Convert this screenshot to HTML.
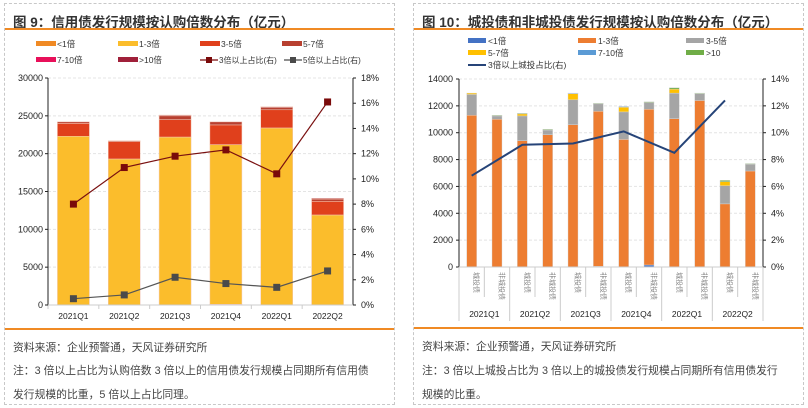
<!DOCTYPE html>
<html><head><meta charset="utf-8">
<style>
body{margin:0;width:808px;height:408px;background:#fff;font-family:"Liberation Sans","Noto Sans CJK SC",sans-serif;position:relative;overflow:hidden}
.panel{position:absolute;top:3px;height:402px;border:1px dashed #c8c8c8;box-sizing:border-box}
.title{position:absolute;left:8px;top:7px;font-size:13.5px;font-weight:bold;color:#333;white-space:nowrap}
.oline{position:absolute;left:0;right:0;height:2px;background:#f08a24}
.note{position:absolute;left:8px;font-size:10.8px;color:#444;white-space:nowrap}
svg{position:absolute;left:0;top:0}
svg text{font-family:"Liberation Sans","Noto Sans CJK SC",sans-serif}
</style></head><body>
<div class="panel" style="left:4px;width:391px">
<div class="title">图 9：信用债发行规模按认购倍数分布（亿元）</div>
<div class="oline" style="top:24px"></div>
<div class="oline" style="top:324px"></div>
<div class="note" style="top:335px">资料来源：企业预警通，天风证券研究所</div>
<div class="note" style="top:358px">注：3 倍以上占比为认购倍数 3 倍以上的信用债发行规模占同期所有信用债</div>
<div class="note" style="top:382px">发行规模的比重，5 倍以上占比同理。</div>
</div>
<div class="panel" style="left:413px;width:391px">
<div class="title">图 10：城投债和非城投债发行规模按认购倍数分布（亿元）</div>
<div class="oline" style="top:24px"></div>
<div class="oline" style="top:323px"></div>
<div class="note" style="top:334px">资料来源：企业预警通，天风证券研究所</div>
<div class="note" style="top:358px">注：3 倍以上城投占比为 3 倍以上的城投债发行规模占同期所有信用债发行</div>
<div class="note" style="top:382px">规模的比重。</div>
</div>
<svg id="s" width="808" height="408"></svg>
<script>
// Left chart data
const lCats=["2021Q1","2021Q2","2021Q3","2021Q4","2022Q1","2022Q2"];
const lLt1=[0,0,0,100,0,0];
const l13=[22300,19300,22200,21100,23400,11900];
const l35=[1700,2300,2300,2600,2400,1800];
const l57=[200,100,500,400,300,300];
const l710=[0,0,0,0,0,0];
const lGt10=[0,0,100,0,100,100];
const l3up=[8.0,10.9,11.8,12.3,10.4,16.1];
const l5up=[0.5,0.8,2.2,1.7,1.4,2.7];
const lYTicks=[0,5000,10000,15000,20000,25000,30000];
const lRTicks=[0,2,4,6,8,10,12,14,16,18];
// Right chart data
const rQuarters=["2021Q1","2021Q2","2021Q3","2021Q4","2022Q1","2022Q2"];
const rCats=["城投债","非城投债"];
const rLt1=[0,0,0,0,0,50,0,150,0,0,0,0];
const r13=[11300,11000,9400,9850,10600,11550,9500,11600,11050,12400,4700,7150];
const r35=[1550,250,1850,350,1850,550,2050,500,1900,500,1350,500];
const r57=[100,0,150,0,450,0,350,0,300,0,300,0];
const r710=[0,0,0,0,50,0,50,0,0,0,0,0];
const rGt10=[0,50,50,50,0,50,0,50,100,50,100,50];
const rLine=[6.8,9.1,9.2,10.1,8.5,12.4];
const rYTicks=[0,2000,4000,6000,8000,10000,12000,14000];
const rRTicks=[0,2,4,6,8,10,12,14];

const s=document.getElementById('s');const NS='http://www.w3.org/2000/svg';
function mk(t,a,txt){const e=document.createElementNS(NS,t);for(const k in a)e.setAttribute(k,a[k]);if(txt!==undefined)e.textContent=txt;s.appendChild(e);return e;}

// ---- Left chart
const L={x0:48,x1:353,y0:305,y1:78,max:30000,rmax:18};
const ly=v=>L.y0-(v/L.max)*(L.y0-L.y1);
const lry=v=>L.y0-(v/L.rmax)*(L.y0-L.y1);
const lbw=(L.x1-L.x0)/lCats.length;
const lx=i=>L.x0+lbw*(i+0.5);
lYTicks.forEach(t=>{
 if(t>0){const g=mk('line',{x1:L.x0,x2:L.x1,y1:ly(t),y2:ly(t),stroke:'#e4e4e4','stroke-dasharray':'3,2'});}
 const e=mk('text',{x:L.x0-5,y:ly(t)+3,'font-size':9,'text-anchor':'end',fill:'#222'},t);
 
});
lRTicks.forEach(t=>{const e=mk('text',{x:L.x1+8,y:lry(t)+3,'font-size':9,fill:'#222'},t+'%');
 
 mk('line',{x1:L.x1,x2:L.x1+3,y1:lry(t),y2:lry(t),stroke:'#222'});});
const lSeries=[[lLt1,'#f08a24'],[l13,'#fbbd2c'],[l35,'#e0401c'],[l57,'#b84030'],[l710,'#e8105a'],[lGt10,'#a0203a']];
lCats.forEach((c,i)=>{let acc=0;
 lSeries.forEach(([arr,col],k)=>{const v=arr[i];if(v<=0)return;
  const r=mk('rect',{x:lx(i)-16,y:ly(acc+v),width:32,height:ly(acc)-ly(acc+v),fill:col,stroke:'#f3c9b8','stroke-width':0.5});
  acc+=v;});
 const t=mk('text',{x:lx(i),y:L.y0+14,'font-size':8.5,'text-anchor':'middle',fill:'#222'},c);
 
 mk('line',{x1:L.x0+lbw*i,x2:L.x0+lbw*i,y1:L.y0,y2:L.y0+4,stroke:'#ccc'});
});
mk('line',{x1:L.x0,x2:L.x0,y1:L.y1,y2:L.y0,stroke:'#222'});
mk('line',{x1:L.x1,x2:L.x1,y1:L.y1,y2:L.y0,stroke:'#222'});
mk('line',{x1:L.x0,x2:L.x1,y1:L.y0,y2:L.y0,stroke:'#ccc'});
lYTicks.forEach(t=>mk('line',{x1:L.x0-3,x2:L.x0,y1:ly(t),y2:ly(t),stroke:'#222'}));
function line(arr,xf,yf,col,w,name,marker){const p=mk('polyline',{points:arr.map((v,i)=>xf(i)+','+yf(v)).join(' '),fill:'none',stroke:col,'stroke-width':w});
 
 if(marker)arr.forEach((v,i)=>{const m=mk('rect',{x:xf(i)-3.5,y:yf(v)-3.5,width:7,height:7,fill:marker});});}
line(l3up,lx,lry,'#7a1010',1.2,'line-3x-share','#7a0a0a');
line(l5up,lx,lry,'#555',1.2,'line-5x-share','#4a4a4a');
// left legend
const lLeg=[['<1倍','#f08a24',36,44],['1-3倍','#fbbd2c',118,44],['3-5倍','#e0401c',200,44],['5-7倍','#b84030',282,44],['7-10倍','#e8105a',36,60],['>10倍','#a0203a',118,60]];
lLeg.forEach(([n,c,x,y])=>{const r=mk('rect',{x:x,y:y-3,width:20,height:5,fill:c});
 const t=mk('text',{x:x+21,y:y+3,'font-size':8.5,fill:'#333'},n);});
[['3倍以上占比(右)','#7a0a0a',200],['5倍以上占比(右)','#4a4a4a',284]].forEach(([n,c,x])=>{mk('line',{x1:x,x2:x+18,y1:60,y2:60,stroke:c,'stroke-width':1.2});mk('rect',{x:x+6,y:57,width:6,height:6,fill:c});
 const t=mk('text',{x:x+19,y:63,'font-size':8,fill:'#333'},n);});

// ---- Right chart
const R={x0:459,x1:763,y0:267,y1:79,max:14000,rmax:14};
const ry=v=>R.y0-(v/R.max)*(R.y0-R.y1);
const rry=v=>R.y0-(v/R.rmax)*(R.y0-R.y1);
const rbw=(R.x1-R.x0)/12;
const rx=i=>R.x0+rbw*(i+0.5);
rYTicks.forEach(t=>{
 if(t>0){const g=mk('line',{x1:R.x0,x2:R.x1,y1:ry(t),y2:ry(t),stroke:'#e4e4e4','stroke-dasharray':'3,2'});}
 const e=mk('text',{x:R.x0-6,y:ry(t)+3,'font-size':9,'text-anchor':'end',fill:'#222'},t);
 
 mk('line',{x1:R.x0-3,x2:R.x0,y1:ry(t),y2:ry(t),stroke:'#222'});
});
rRTicks.forEach(t=>{const e=mk('text',{x:R.x1+8,y:rry(t)+3,'font-size':9,fill:'#222'},t+'%');
 
 mk('line',{x1:R.x1,x2:R.x1+3,y1:rry(t),y2:rry(t),stroke:'#222'});});
const rSeries=[[rLt1,'#4472c4'],[r13,'#ed7d31'],[r35,'#a5a5a5'],[r57,'#ffc000'],[r710,'#5b9bd5'],[rGt10,'#70ad47']];
for(let i=0;i<12;i++){let acc=0;
 rSeries.forEach(([arr,col],k)=>{const v=arr[i];if(v<=0)return;
  const r=mk('rect',{x:rx(i)-5,y:ry(acc+v),width:10,height:ry(acc)-ry(acc+v),fill:col,stroke:'#d8d8d8','stroke-width':0.4});
  acc+=v;});
 const t=mk('text',{x:0,y:0,'font-size':7,fill:'#888',transform:`translate(${rx(i)+2.5},${R.y0+5}) rotate(90)`},rCats[i%2]);
 
 mk('line',{x1:R.x0+rbw*i,x2:R.x0+rbw*i,y1:R.y0,y2:R.y0+(i%2?30:54),stroke:'#ccc'});
}
mk('line',{x1:R.x1,x2:R.x1,y1:R.y0,y2:R.y0+54,stroke:'#ccc'});
rQuarters.forEach((q,j)=>{const t=mk('text',{x:R.x0+rbw*(2*j+1),y:R.y0+50,'font-size':8.5,'text-anchor':'middle',fill:'#222'},q);
 });
mk('line',{x1:R.x0,x2:R.x0,y1:R.y1,y2:R.y0,stroke:'#222'});
mk('line',{x1:R.x1,x2:R.x1,y1:R.y1,y2:R.y0,stroke:'#222'});
mk('line',{x1:R.x0,x2:R.x1,y1:R.y0,y2:R.y0,stroke:'#ccc'});
line(rLine,i=>rx(2*i),rry,'#264478',2,'line-3x-chengtou-share',null);
const rLeg=[['<1倍','#4472c4',468,41],['1-3倍','#ed7d31',578,41],['3-5倍','#a5a5a5',686,41],['5-7倍','#ffc000',468,53],['7-10倍','#5b9bd5',578,53],['>10','#70ad47',686,53]];
rLeg.forEach(([n,c,x,y])=>{const r=mk('rect',{x:x,y:y-3,width:18,height:5,fill:c});
 const t=mk('text',{x:x+20,y:y+3,'font-size':8.5,fill:'#333'},n);});
mk('line',{x1:468,x2:486,y1:65,y2:65,stroke:'#264478','stroke-width':2});
const rt=mk('text',{x:488,y:68,'font-size':8.5,fill:'#333'},'3倍以上城投占比(右)');
</script>
</body></html>
